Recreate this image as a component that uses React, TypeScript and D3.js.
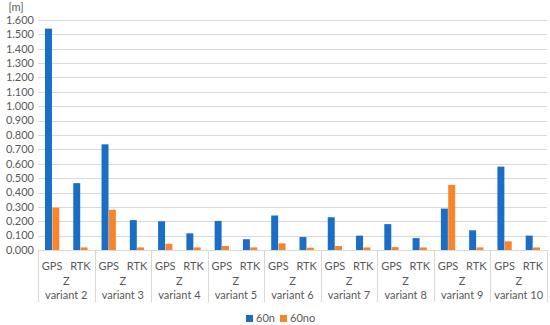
import { useEffect, useRef } from 'react'
import * as d3 from 'd3'

const variants = ['variant 2', 'variant 3', 'variant 4', 'variant 5', 'variant 6', 'variant 7', 'variant 8', 'variant 9', 'variant 10']
const methods = ['GPS', 'RTK']
const seriesNames = ['60n', '60no']
// values per variant: [GPS, RTK]
const values60n = [
  [1.54, 0.465],
  [0.735, 0.208],
  [0.2, 0.116],
  [0.202, 0.075],
  [0.24, 0.09],
  [0.228, 0.1],
  [0.18, 0.083],
  [0.288, 0.137],
  [0.58, 0.1],
]
const values60no = [
  [0.295, 0.018],
  [0.28, 0.018],
  [0.043, 0.018],
  [0.028, 0.018],
  [0.046, 0.016],
  [0.028, 0.018],
  [0.02, 0.018],
  [0.453, 0.018],
  [0.06, 0.018],
]
const yTicks = d3.range(0, 1.6001, 0.1)
const colors = ['#1a6ec6', '#f7852b']

export default function App() {
  const svgRef = useRef<SVGSVGElement>(null)
  const width = 550
  const height = 325

  useEffect(() => {
    if (!svgRef.current) return
    const svg = d3.select(svgRef.current)
    svg.selectAll('*').remove()

    const margin = { top: 20, right: 3, bottom: 75, left: 38 }
    const innerW = width - margin.left - margin.right
    const innerH = height - margin.top - margin.bottom
    const font = 'Lato, "Open Sans", sans-serif'
    const textColor = '#595959'
    const fontSize = 11

    const x0 = d3.scaleBand().domain(variants).range([0, innerW]).padding(0)
    const x1 = d3.scaleBand().domain(methods).range([0, x0.bandwidth()]).padding(0)
    const x2 = d3.scaleBand().domain(seriesNames).range([0, x1.bandwidth()]).paddingInner(0.05).paddingOuter(0.95)
    const y = d3.scaleLinear().domain([0, 1.6]).range([innerH, 0])

    const g = svg.append('g').attr('transform', `translate(${margin.left},${margin.top})`)

    // gridlines
    g.append('g')
      .selectAll('line')
      .data(yTicks.slice(1))
      .enter()
      .append('line')
      .attr('x1', 0)
      .attr('x2', innerW)
      .attr('y1', (d) => Math.round(y(d)) + 0.5)
      .attr('y2', (d) => Math.round(y(d)) + 0.5)
      .attr('stroke', '#d9d9d9')
      .attr('stroke-width', 1)

    // y tick labels
    g.append('g')
      .selectAll('text')
      .data(yTicks)
      .enter()
      .append('text')
      .attr('x', -4)
      .attr('y', (d) => y(d))
      .attr('dy', '0.35em')
      .attr('text-anchor', 'end')
      .attr('font-family', font)
      .attr('font-size', fontSize)
      .attr('fill', textColor)
      .text((d) => d.toFixed(3))

    svg.append('text')
      .attr('x', 16)
      .attr('y', 11)
      .attr('text-anchor', 'middle')
      .attr('font-family', font)
      .attr('font-size', fontSize)
      .attr('fill', textColor)
      .text('[m]')

    // bars
    const groups = g.selectAll('g.variant')
      .data(variants)
      .enter()
      .append('g')
      .attr('class', 'variant')
      .attr('transform', (d) => `translate(${x0(d)},0)`)

    groups.each(function (v, vi) {
      const vg = d3.select(this)
      methods.forEach((m, mi) => {
        const vals = [values60n[vi][mi], values60no[vi][mi]]
        vals.forEach((val, si) => {
          vg.append('rect')
            .attr('x', (x1(m) ?? 0) + (x2(seriesNames[si]) ?? 0))
            .attr('y', y(val))
            .attr('width', x2.bandwidth())
            .attr('height', innerH - y(val))
            .attr('fill', colors[si])
        })
        vg.append('text')
          .attr('x', (x1(m) ?? 0) + x1.bandwidth() / 2)
          .attr('y', innerH + 20)
          .attr('text-anchor', 'middle')
          .attr('font-family', font)
          .attr('font-size', fontSize)
          .attr('fill', textColor)
          .text(m)
      })
      vg.append('text')
        .attr('x', x0.bandwidth() / 2)
        .attr('y', innerH + 35)
        .attr('text-anchor', 'middle')
        .attr('font-family', font)
        .attr('font-size', fontSize)
        .attr('fill', textColor)
        .text('Z')
      vg.append('text')
        .attr('x', x0.bandwidth() / 2)
        .attr('y', innerH + 49)
        .attr('text-anchor', 'middle')
        .attr('font-family', font)
        .attr('font-size', fontSize)
        .attr('fill', textColor)
        .text(v)
    })

    // axis line and separators
    g.append('line')
      .attr('x1', 0)
      .attr('x2', innerW)
      .attr('y1', innerH + 0.5)
      .attr('y2', innerH + 0.5)
      .attr('stroke', '#d9d9d9')
    g.append('g')
      .selectAll('line')
      .data(d3.range(variants.length + 1))
      .enter()
      .append('line')
      .attr('x1', (i) => Math.round(i * x0.bandwidth()) + 0.5)
      .attr('x2', (i) => Math.round(i * x0.bandwidth()) + 0.5)
      .attr('y1', innerH)
      .attr('y2', innerH + 52)
      .attr('stroke', '#d9d9d9')

    // legend
    const legend = svg.append('g').attr('transform', `translate(0,${height - 3})`)
    const legendX = [246, 280]
    seriesNames.forEach((s, i) => {
      legend.append('rect')
        .attr('x', legendX[i])
        .attr('y', -7)
        .attr('width', 7)
        .attr('height', 7)
        .attr('fill', colors[i])
      legend.append('text')
        .attr('x', legendX[i] + 10)
        .attr('y', 0)
        .attr('font-family', font)
        .attr('font-size', fontSize)
        .attr('fill', textColor)
        .text(s)
    })
  }, [])

  return (
    <svg
      ref={svgRef}
      width={width}
      height={height}
      style={{ position: 'absolute', left: 0, top: 0, background: '#fff' }}
    />
  )
}
